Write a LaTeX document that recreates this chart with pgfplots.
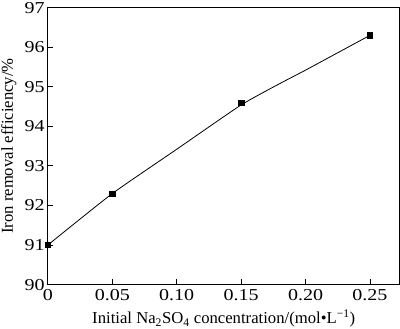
\documentclass[border=0pt]{standalone}
\usepackage{fontspec}
\setmainfont{Liberation Serif}
\newfontfamily\tickfont[FakeStretch=1.2]{Liberation Serif}
\usepackage{pgfplots}
\pgfplotsset{compat=1.18}
\begin{document}
\begin{tikzpicture}
\begin{axis}[
  scale only axis,
  width=348pt, height=274pt,
  xmin=0, xmax=0.273,
  ymin=90, ymax=97,
  xtick={0,0.05,0.10,0.15,0.20,0.25},
  xticklabels={0,0.05,0.10,0.15,0.20,0.25},
  ytick={90,91,92,93,94,95,96,97},
  tick align=inside,
  major tick length=5pt,
  xtick pos=bottom, ytick pos=left,
  /pgf/number format/assume math mode=true,
  tick label style={font=\tickfont\fontsize{16.5}{18}\selectfont},
  xticklabel style={inner sep=2pt, yshift=-3pt},
  yticklabel style={inner sep=2pt, xshift=-1pt},
  label style={font=\fontsize{16.5}{18}\selectfont},
  xlabel={Initial Na\textsubscript{2}SO\textsubscript{4} concentration/(mol•L\textsuperscript{−1})},
  ylabel={Iron removal efficiency/\%},
  xlabel style={inner sep=1pt, yshift=-5pt},
  ylabel style={inner sep=1pt, yshift=5pt},
  axis line style={line width=0.8pt},
  every tick/.style={black, line width=0.8pt},
  clip=false,
]
\addplot[black, line width=0.8pt, smooth, tension=0.3] coordinates {
  (0,91.0) (0.05,92.3) (0.10,93.42) (0.15,94.54) (0.18,95.08) (0.20,95.42) (0.25,96.3)
};
\addplot[only marks, mark=square*, mark size=2.6pt, black] coordinates {
  (0,91.0) (0.05,92.3) (0.15,94.6) (0.25,96.3)
};
\end{axis}
\end{tikzpicture}
\end{document}
